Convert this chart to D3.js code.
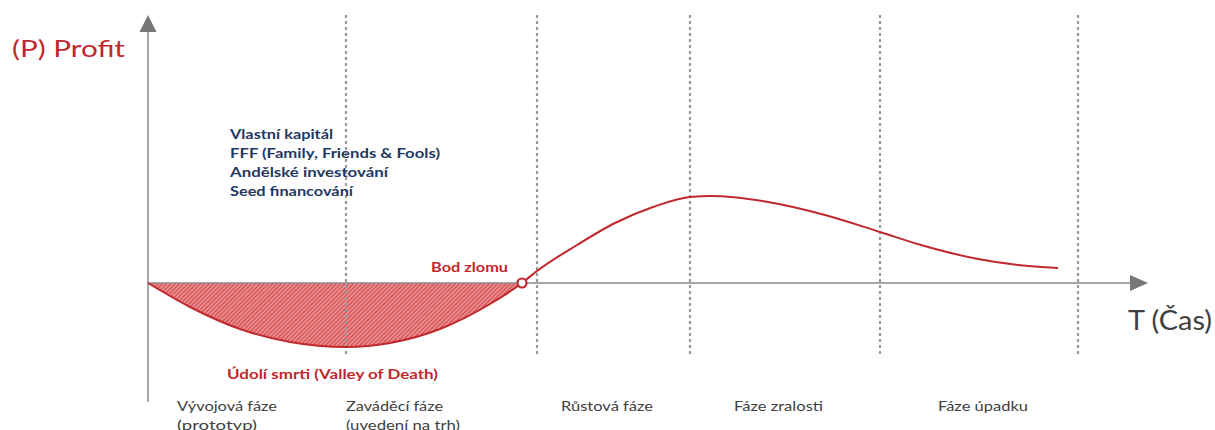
<!DOCTYPE html>
<html>
<head>
<meta charset="utf-8">
<script src="https://cdn.jsdelivr.net/npm/d3@7"></script>
<style>
  html, body { margin: 0; padding: 0; background: #fff; }
  svg { display: block; }
  text { font-family: Lato, "Open Sans", sans-serif; }
</style>
</head>
<body>
<svg id="chart" width="1215" height="430"></svg>
<script>
// Product life-cycle profit curve (time in arbitrary units, profit in arbitrary units)
const timeValues   = [0, 4.2, 9.2, 14.2, 19.8, 24.2, 29.2, 34.2, 37.4, 38.9, 42.9, 46.7, 50.5, 54.2, 56.3, 62.0, 67.7, 73.2, 77.3, 83.0, 87.0, 91.0];
const profitValues = [0, -2.4, -4.6, -5.9, -6.4, -6.0, -4.6, -2.1, 0, 1.2, 3.8, 6.0, 7.6, 8.6, 8.7, 8.1, 6.8, 5.1, 3.8, 2.4, 1.8, 1.5];

// Break-even point
const breakEvenTime = 37.4;

// Phase boundaries (dotted verticals)
const phaseBoundaries = [19.8, 38.9, 54.2, 73.2, 93.0];

// Phase labels: start time and text lines
const phaseLabels = [
  { t: 2.9,  lines: ["Vývojová fáze", "(prototyp)"], widths: [100, 80] },
  { t: 19.8, lines: ["Zaváděcí fáze", "(uvedení na trh)"], widths: [97, 114] },
  { t: 41.3, lines: ["Růstová fáze"], widths: [92] },
  { t: 58.6, lines: ["Fáze zralosti"], widths: [89] },
  { t: 79.0, lines: ["Fáze úpadku"], widths: [90] }
];

// Financing sources
const fundingLines  = ["Vlastní kapitál", "FFF (Family, Friends & Fools)", "Andělské investování", "Seed financování"];
const fundingWidths = [103, 210, 158, 123];

const RED = "#c0282d";
const GREY_AXIS = "#8a8a8a";
const GREY_TEXT = "#404040";
const NAVY = "#1f3864";

const svg = d3.select("#chart");

const x = d3.scaleLinear().domain([0, 100]).range([148, 1148]);
const y = d3.scaleLinear().domain([-7, 27]).range([353, 13]);

// Hatch pattern for the loss area
const defs = svg.append("defs");
const pat = defs.append("pattern")
  .attr("id", "hatch")
  .attr("patternUnits", "userSpaceOnUse")
  .attr("width", 3).attr("height", 3)
  .attr("patternTransform", "rotate(45)");
pat.append("rect").attr("width", 3).attr("height", 3).attr("fill", "#ea8c8d");
pat.append("line").attr("x1", 0).attr("y1", 0).attr("x2", 0).attr("y2", 3)
  .attr("stroke", "#c8353a").attr("stroke-width", 1.6);

const pts = timeValues.map((t, i) => ({ t, p: profitValues[i] }));
const lossPts = pts.filter(d => d.t <= breakEvenTime);

// Loss ("valley of death") area
const area = d3.area()
  .x(d => x(d.t)).y0(y(0)).y1(d => y(d.p))
  .curve(d3.curveMonotoneX);
svg.append("path").datum(lossPts).attr("d", area).attr("fill", "url(#hatch)");

// Dotted phase boundaries
svg.selectAll("line.phase").data(phaseBoundaries).join("line")
  .attr("class", "phase")
  .attr("x1", d => x(d)).attr("x2", d => x(d))
  .attr("y1", 15).attr("y2", 355)
  .attr("stroke", "#9a9a9a").attr("stroke-width", 2.2)
  .attr("stroke-dasharray", "3,3");

// Axes with arrow heads
svg.append("line")
  .attr("x1", x(0)).attr("x2", x(0)).attr("y1", 30).attr("y2", 402)
  .attr("stroke", GREY_AXIS).attr("stroke-width", 1.5);
svg.append("path")
  .attr("d", `M${x(0)},15 L${x(0) - 8.5},32 L${x(0) + 8.5},32 Z`)
  .attr("fill", "#777");

svg.append("line")
  .attr("x1", x(0)).attr("x2", 1132).attr("y1", y(0)).attr("y2", y(0))
  .attr("stroke", GREY_AXIS).attr("stroke-width", 1.5);
svg.append("path")
  .attr("d", `M1148,${y(0)} L1130,${y(0) - 8} L1130,${y(0) + 8} Z`)
  .attr("fill", "#777");

// Profit curve
const line = d3.line().x(d => x(d.t)).y(d => y(d.p)).curve(d3.curveMonotoneX);
svg.append("path").datum(pts).attr("d", line)
  .attr("fill", "none").attr("stroke", RED).attr("stroke-width", 2);

// Break-even marker
svg.append("circle")
  .attr("cx", x(breakEvenTime)).attr("cy", y(0)).attr("r", 4.5)
  .attr("fill", "#fff").attr("stroke", RED).attr("stroke-width", 2.2);

// Axis titles
svg.append("text").attr("x", 12).attr("y", 57)
  .attr("font-size", 24).attr("fill", RED)
  .attr("textLength", 113).attr("lengthAdjust", "spacingAndGlyphs")
  .text("(P) Profit");
svg.append("text").attr("x", 1128).attr("y", 330)
  .attr("font-size", 26).attr("fill", GREY_TEXT)
  .attr("textLength", 84).attr("lengthAdjust", "spacingAndGlyphs")
  .text("T (Čas)");

// Financing sources
svg.selectAll("text.fund").data(fundingLines).join("text")
  .attr("class", "fund")
  .attr("x", 230).attr("y", (d, i) => 139 + i * 19)
  .attr("font-size", 14).attr("font-weight", "bold").attr("fill", NAVY)
  .attr("textLength", (d, i) => fundingWidths[i]).attr("lengthAdjust", "spacingAndGlyphs")
  .text(d => d);

// Annotations
svg.append("text").attr("x", 431).attr("y", 272)
  .attr("font-size", 13.5).attr("font-weight", "bold").attr("fill", RED)
  .attr("textLength", 77).attr("lengthAdjust", "spacingAndGlyphs")
  .text("Bod zlomu");
svg.append("text").attr("x", 227).attr("y", 379)
  .attr("font-size", 14).attr("font-weight", "bold").attr("fill", RED)
  .attr("textLength", 211).attr("lengthAdjust", "spacingAndGlyphs")
  .text("Údolí smrti (Valley of Death)");

// Phase labels
phaseLabels.forEach(ph => {
  ph.lines.forEach((ln, i) => {
    svg.append("text")
      .attr("x", x(ph.t)).attr("y", 411 + i * 19)
      .attr("font-size", 14).attr("fill", GREY_TEXT)
      .attr("textLength", ph.widths[i]).attr("lengthAdjust", "spacingAndGlyphs")
      .text(ln);
  });
});
</script>
</body>
</html>
